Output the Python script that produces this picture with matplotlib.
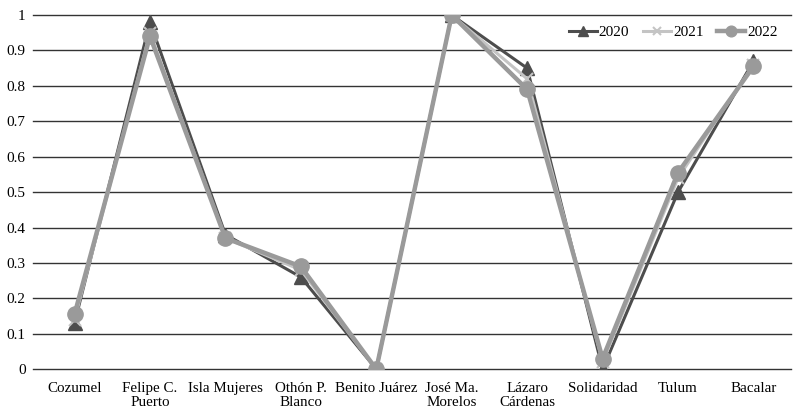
import matplotlib.pyplot as plt

municipios = ["Cozumel", "Felipe C.\nPuerto", "Isla Mujeres", "Othón P.\nBlanco",
              "Benito Juárez", "José Ma.\nMorelos", "Lázaro\nCárdenas",
              "Solidaridad", "Tulum", "Bacalar"]
v2020 = [0.13, 0.98, 0.38, 0.26, 0.0, 1.0, 0.85, 0.0, 0.50, 0.87]
v2021 = [0.14, 0.95, 0.37, 0.28, 0.0, 1.0, 0.82, 0.02, 0.54, 0.86]
v2022 = [0.155, 0.94, 0.37, 0.29, 0.0, 1.0, 0.79, 0.03, 0.555, 0.855]
y_ticks = [0, 0.1, 0.2, 0.3, 0.4, 0.5, 0.6, 0.7, 0.8, 0.9, 1]
y_labels = ["0", "0.1", "0.2", "0.3", "0.4", "0.5", "0.6", "0.7", "0.8", "0.9", "1"]

plt.rcParams["font.family"] = ["Liberation Serif", "DejaVu Serif"]

fig = plt.figure(figsize=(8, 4.19), dpi=100)
ax = fig.add_axes([0.046, 0.119, 0.943, 0.845])

x = list(range(len(municipios)))
ax.plot(x, v2020, color="#4d4d4d", linewidth=2.2, marker="^", markersize=10, label="2020", zorder=3)
ax.plot(x, v2021, color="#c4c4c4", linewidth=2.2, marker="x", markersize=9, markeredgewidth=1.5,
        label="2021", zorder=4)
ax.plot(x, v2022, color="#9a9a9a", linewidth=3.2, marker="o", markersize=11, label="2022", zorder=5)

ax.set_xlim(-0.5, len(municipios) - 0.5)
ax.set_ylim(0, 1)
ax.set_yticks(y_ticks)
ax.set_yticklabels(y_labels)
ax.set_xticks(x)
ax.set_xticklabels(municipios, fontsize=10.8, linespacing=1.15)
ax.tick_params(axis="y", length=0, labelsize=11, pad=8)
ax.tick_params(axis="x", length=0, pad=9)
for v in y_ticks:
    ax.axhline(v, xmin=-0.005, color="#333333", linewidth=1.0, zorder=1, clip_on=False)
for s in ax.spines.values():
    s.set_visible(False)

ax.legend(loc="upper right", bbox_to_anchor=(1.0, 1.01), ncol=3, frameon=False, fontsize=11,
          handlelength=1.8, handletextpad=0.15, columnspacing=0.9, markerscale=0.7)

fig.savefig("out.png", dpi=100, facecolor="white")
